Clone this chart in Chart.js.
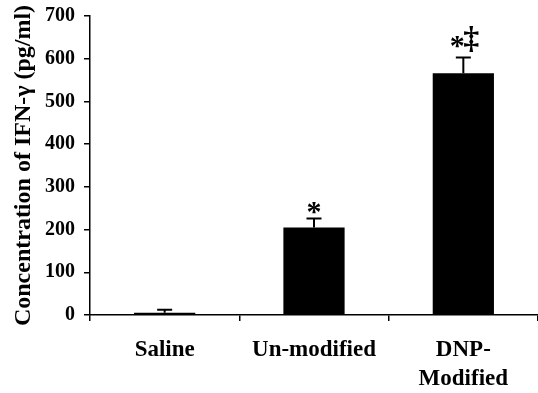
<!DOCTYPE html>
<html lang="en">
<head>
    <meta charset="UTF-8">
    <title>IFN-gamma</title>
    <script src="https://cdn.jsdelivr.net/npm/chart.js@4/dist/chart.umd.min.js"></script>
    <style>
        html, body { margin: 0; padding: 0; background: #fff; }
        #wrap { width: 538px; height: 393px; }
    </style>
</head>
<body>
    <div id="wrap"><canvas id="myChart"></canvas></div>

    <script type="text/javascript">
        var groups = [["Saline"], ["Un-modified"], ["DNP-", "Modified"]];
        var ifnValues = [5, 205, 566];
        var ifnErrors = [7, 21, 37];
        var marks = ["", "*", "*‡"];
        var yTicks = [0, 100, 200, 300, 400, 500, 600, 700];

        var serif = "'Liberation Serif', 'Times New Roman', serif";

        // put a glyph so that its ink box is centred on (cx, cy)
        function glyphAt(ctx, ch, font, cx, cy) {
            ctx.font = font;
            ctx.textAlign = 'left';
            ctx.textBaseline = 'alphabetic';
            var m = ctx.measureText(ch);
            var w = m.actualBoundingBoxLeft + m.actualBoundingBoxRight;
            var h = m.actualBoundingBoxAscent + m.actualBoundingBoxDescent;
            var x = cx - w / 2 + m.actualBoundingBoxLeft;
            var y = cy - h / 2 + m.actualBoundingBoxAscent;
            ctx.fillText(ch, x, y);
        }

        // error bars and significance marks drawn on top of the bars
        var extras = {
            id: 'extras',
            afterDatasetsDraw: function(chart) {
                var ctx = chart.ctx;
                var y = chart.scales.y;
                var meta = chart.getDatasetMeta(0);
                ctx.save();
                ctx.strokeStyle = '#000';
                ctx.fillStyle = '#000';
                ctx.lineWidth = 2;
                for (var i = 0; i < ifnValues.length; i++) {
                    var bx = meta.data[i].x;
                    var top = y.getPixelForValue(ifnValues[i]);
                    var hi = y.getPixelForValue(ifnValues[i] + ifnErrors[i]);
                    ctx.beginPath();
                    ctx.moveTo(bx, top);
                    ctx.lineTo(bx, hi);
                    ctx.moveTo(bx - 7.5, hi);
                    ctx.lineTo(bx + 7.5, hi);
                    ctx.stroke();

                    if (marks[i] == "*") {
                        glyphAt(ctx, "*", "bold 30px " + serif, bx, hi - 10);
                    } else if (marks[i]) {
                        glyphAt(ctx, "*", "bold 30px " + serif, bx - 6, hi - 15);
                        glyphAt(ctx, "‡", "bold 32px " + serif, bx + 8, hi - 18);
                    }
                }
                ctx.restore();
            }
        };

        var ctx = document.getElementById('myChart').getContext('2d');
        var chart = new Chart(ctx, {
            type: 'bar',
            data: {
                labels: groups,
                datasets: [{
                    data: ifnValues,
                    backgroundColor: '#000',
                    borderWidth: 0,
                    barPercentage: 0.41,
                    categoryPercentage: 1
                }]
            },
            options: {
                responsive: true,
                maintainAspectRatio: false,
                animation: false,
                layout: { padding: { top: 16, right: 0, left: 0, bottom: 0 } },
                plugins: {
                    legend: { display: false },
                    tooltip: { enabled: false }
                },
                scales: {
                    x: {
                        grid: {
                            offset: true,
                            drawOnChartArea: false,
                            drawTicks: true,
                            tickLength: 6,
                            color: '#000',
                            lineWidth: 1.5
                        },
                        border: { color: '#000', width: 1.5 },
                        ticks: {
                            color: '#000',
                            padding: 15,
                            maxRotation: 0,
                            autoSkip: false,
                            font: { family: serif, size: 23, weight: 'bold', lineHeight: 1.25 }
                        },
                        afterFit: function(scale) {
                            scale.height = 78;
                            scale.paddingLeft = 0;
                            scale.paddingRight = 0;
                        }
                    },
                    y: {
                        min: 0,
                        max: 700,
                        afterBuildTicks: function(scale) {
                            scale.ticks = yTicks.map(function(v) { return { value: v }; });
                        },
                        grid: {
                            drawOnChartArea: false,
                            tickLength: 6,
                            color: '#000',
                            lineWidth: 1.5
                        },
                        border: { color: '#000', width: 1.5 },
                        ticks: {
                            color: '#000',
                            padding: 9,
                            font: { family: serif, size: 20, weight: 'bold' }
                        },
                        title: {
                            display: true,
                            text: 'Concentration of IFN-γ (pg/ml)',
                            color: '#000',
                            padding: { top: 9, bottom: 0 },
                            font: { family: serif, size: 24, weight: 'bold' }
                        },
                        afterFit: function(scale) {
                            scale.width = 90;
                            scale.paddingTop = 0;
                            scale.paddingBottom = 0;
                        }
                    }
                }
            },
            plugins: [extras]
        });
    </script>
</body>
</html>
